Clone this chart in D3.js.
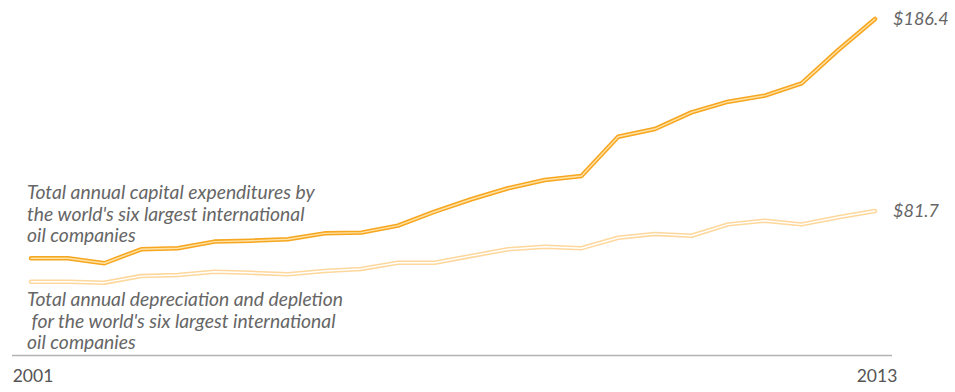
<!DOCTYPE html>
<html>
<head>
<meta charset="utf-8">
<script src="https://cdn.jsdelivr.net/npm/d3@7"></script>
<style>
  html, body { margin: 0; padding: 0; background: #fff; }
  svg { display: block; }
  text { font-family: Lato, "Open Sans", sans-serif; }
</style>
</head>
<body>
<svg id="chart" width="955" height="392"></svg>
<script>
// Half-yearly observations, 2001 through 2013 (billions of dollars)
const periods = d3.range(24);
const capex = [55.9, 55.9, 53.2, 60.8, 61.4, 65.0, 65.5, 66.3, 69.5, 69.9, 73.7, 81.3,
               88.1, 94.1, 98.6, 100.8, 122.2, 126.4, 135.5, 141.3, 144.6, 151.3, 169.5, 186.4];
const depreciation = [43.1, 43.1, 42.6, 46.2, 46.8, 48.6, 48.0, 47.2, 49.0, 50.1, 53.5, 53.5,
                      57.2, 60.8, 62.2, 61.4, 67.1, 69.2, 68.2, 74.4, 76.4, 74.4, 78.3, 81.7];
const tickIndex = [0, 23];
const tickLabels = ["2001", "2013"];
const capexNote = ["Total annual capital expenditures by", "the world's six largest international", "oil companies"];
const deprNote = ["Total annual depreciation and depletion", " for the world's six largest international", "oil companies"];

const svg = d3.select("#chart");
const x = d3.scaleLinear().domain([0, 23]).range([31, 875]);
const y = d3.scaleLinear().domain([0, 186.4]).range([360.8, 19]);
const axisY = 355.5;

// baseline
svg.append("line")
  .attr("x1", 12).attr("x2", 892)
  .attr("y1", axisY).attr("y2", axisY)
  .attr("stroke", "#b3b3b3").attr("stroke-width", 1.5);

// year labels
const xAxis = d3.axisBottom(x).tickValues(tickIndex)
  .tickFormat((d, i) => tickLabels[i]).tickSize(0).tickPadding(14);
const gx = svg.append("g").attr("transform", `translate(0,${axisY})`).call(xAxis);
gx.select(".domain").remove();
gx.selectAll("text")
  .attr("fill", "#555").attr("font-size", 17.5)
  .style("font-family", "Lato, 'Open Sans', sans-serif");
gx.selectAll(".tick").attr("transform", d => `translate(${x(d) + 2},0)`);

const line = d3.line().x((d, i) => x(periods[i])).y(d => y(d));

// each series is drawn as a double stroke: coloured outline with a pale core
function drawSeries(values, outer, inner) {
  svg.append("path").datum(values).attr("d", line)
    .attr("fill", "none").attr("stroke", outer).attr("stroke-width", 4.5)
    .attr("stroke-linejoin", "round").attr("stroke-linecap", "round");
  svg.append("path").datum(values).attr("d", line)
    .attr("fill", "none").attr("stroke", inner).attr("stroke-width", 1.4)
    .attr("stroke-linejoin", "round").attr("stroke-linecap", "round");
}
drawSeries(depreciation, "#fed79c", "#ffffff");
drawSeries(capex, "#f7a61f", "#ffe2a6");

// end value labels
function endLabel(values) {
  const v = values[values.length - 1];
  svg.append("text")
    .attr("x", x(periods[periods.length - 1]) + 18)
    .attr("y", y(v)).attr("dy", "0.35em")
    .attr("font-size", 18).attr("font-style", "italic").attr("fill", "#666")
    .text("$" + v.toFixed(1));
}
endLabel(capex);
endLabel(depreciation);

// series notes
function note(lines, baseY) {
  const t = svg.append("text")
    .attr("x", 27).attr("y", baseY)
    .attr("font-size", 19.3).attr("font-style", "italic").attr("fill", "#666")
    .attr("xml:space", "preserve");
  t.selectAll("tspan").data(lines).join("tspan")
    .attr("x", 27).attr("dy", (d, i) => i === 0 ? 0 : 21.5)
    .text(d => d);
}
note(capexNote, 199);
note(deprNote, 306);
</script>
</body>
</html>
